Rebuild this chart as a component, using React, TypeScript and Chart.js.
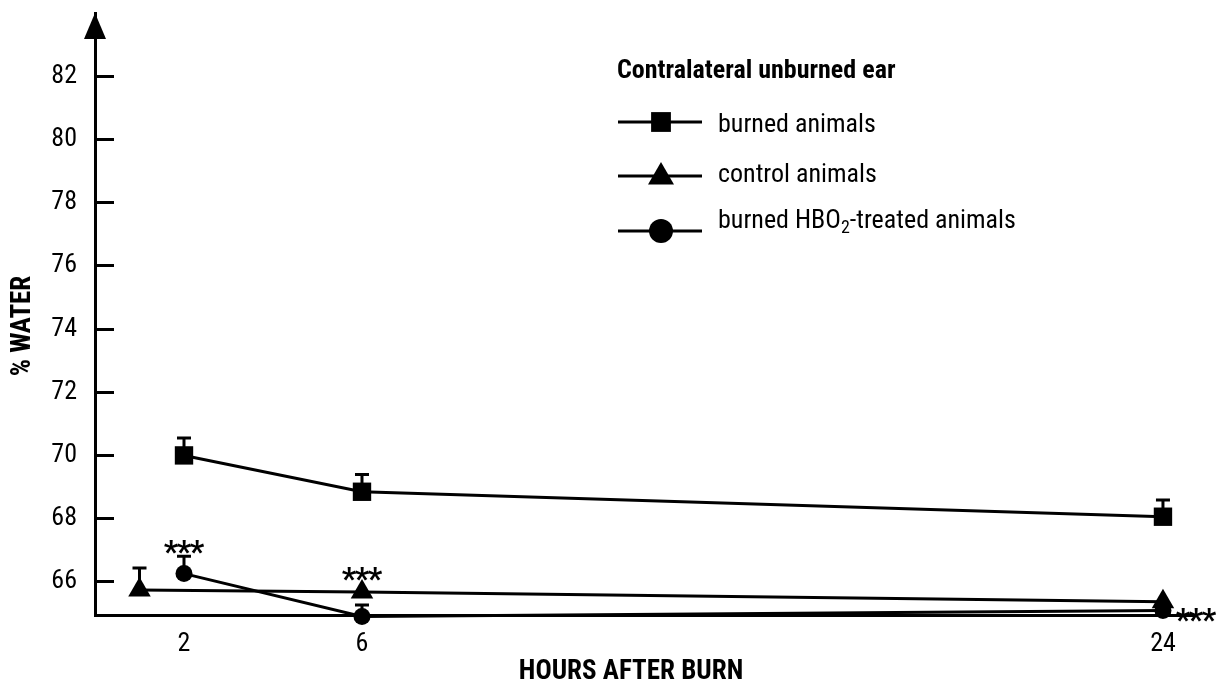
import React, { useEffect, useRef } from 'react';
import { Chart, registerables } from 'chart.js';

Chart.register(...registerables);

// ---- data ----
const HOURS_BURNED = [2, 6, 24];
const BURNED = [70.0, 68.85, 68.06];
const BURNED_ERR = [0.55, 0.55, 0.53];

const HOURS_CONTROL = [1, 6, 24];
const CONTROL = [65.74, 65.68, 65.37];
const CONTROL_ERR = [0.7, 0, 0];

const HOURS_HBO = [2, 6, 24];
const HBO = [66.26, 64.9, 65.09];
const HBO_ERR = [0.55, 0.37, 0];

const X_TICKS = [2, 6, 24];
const Y_TICKS = [66, 68, 70, 72, 74, 76, 78, 80, 82];

const STAR_X = [2, 6, 24.74];
const STAR_Y = [67.18, 66.3, 65.0];

const LEGEND_TITLE = 'Contralateral unburned ear';
const SERIES_LABELS = ['burned animals', 'control animals', 'burned HBO2-treated animals'];
const X_TITLE = 'HOURS AFTER BURN';
const Y_TITLE = '% WATER';

const FONT = "'Liberation Sans Narrow', 'Roboto Condensed', 'DejaVu Sans Condensed', 'Arial Narrow', sans-serif";

const ERRS = [BURNED_ERR, CONTROL_ERR, HBO_ERR];

function drawMarker(ctx: CanvasRenderingContext2D, style: string, x: number, y: number, r: number) {
  ctx.beginPath();
  if (style === 'rect') {
    const s = r * Math.SQRT1_2;
    ctx.rect(x - s, y - s, 2 * s, 2 * s);
  } else if (style === 'triangle') {
    ctx.moveTo(x, y - r);
    ctx.lineTo(x + r * Math.sin((2 * Math.PI) / 3), y - r * Math.cos((2 * Math.PI) / 3));
    ctx.lineTo(x + r * Math.sin((4 * Math.PI) / 3), y - r * Math.cos((4 * Math.PI) / 3));
    ctx.closePath();
  } else {
    ctx.arc(x, y, r, 0, Math.PI * 2);
  }
  ctx.fill();
}

const overlay = {
  id: 'overlay',
  beforeDatasetsDraw(chart: any) {
    const ctx = chart.ctx as CanvasRenderingContext2D;
    const xs = chart.scales.x;
    const ys = chart.scales.y;
    ctx.save();
    ctx.strokeStyle = '#000';
    ctx.lineWidth = 3;
    chart.data.datasets.forEach((ds: any, di: number) => {
      ds.data.forEach((p: any, i: number) => {
        const e = ERRS[di][i];
        if (!e) return;
        const px = xs.getPixelForValue(p.x);
        const y0 = ys.getPixelForValue(p.y);
        const y1 = ys.getPixelForValue(p.y + e);
        ctx.beginPath();
        ctx.moveTo(px, y0);
        ctx.lineTo(px, y1);
        ctx.moveTo(px - 7, y1);
        ctx.lineTo(px + 7, y1);
        ctx.stroke();
      });
    });
    ctx.restore();
  },
  afterDraw(chart: any) {
    const ctx = chart.ctx as CanvasRenderingContext2D;
    const xs = chart.scales.x;
    const ys = chart.scales.y;
    const area = chart.chartArea;
    ctx.save();
    ctx.fillStyle = '#000';
    ctx.strokeStyle = '#000';

    // arrow head on y axis
    ctx.beginPath();
    ctx.moveTo(area.left, area.top);
    ctx.lineTo(area.left + 11, area.top + 26);
    ctx.lineTo(area.left - 11, area.top + 26);
    ctx.closePath();
    ctx.fill();

    // significance stars
    ctx.font = `bold 32px ${FONT}`;
    ctx.textAlign = 'center';
    ctx.textBaseline = 'alphabetic';
    STAR_X.forEach((sx, i) => {
      const cx = xs.getPixelForValue(sx);
      const cy = ys.getPixelForValue(STAR_Y[i]);
      [-13, 0, 13].forEach((o) => ctx.fillText('*', cx + o, cy + 17));
    });

    // axis titles
    ctx.font = `bold 27px ${FONT}`;
    ctx.textAlign = 'center';
    ctx.textBaseline = 'middle';
    ctx.fillText(X_TITLE, 631, 672);
    ctx.save();
    ctx.translate(23, 326);
    ctx.rotate(-Math.PI / 2);
    ctx.fillText(Y_TITLE, 0, 0);
    ctx.restore();

    // legend
    ctx.textAlign = 'left';
    ctx.textBaseline = 'alphabetic';
    ctx.font = `bold 26px ${FONT}`;
    ctx.fillText(LEGEND_TITLE, 617, 78);
    const rowY = [122, 176, 231];
    const textBase = [132, 182, 228];
    const styles = ['rect', 'triangle', 'circle'];
    const radii = [14, 15, 12];
    ctx.lineWidth = 3;
    SERIES_LABELS.forEach((lab, i) => {
      ctx.beginPath();
      ctx.moveTo(618, rowY[i]);
      ctx.lineTo(702, rowY[i]);
      ctx.stroke();
      drawMarker(ctx, styles[i], 661, i === 1 ? rowY[i] + 1 : rowY[i], radii[i]);
      ctx.font = `26px ${FONT}`;
      const idx = lab.indexOf('HBO2');
      if (idx >= 0) {
        const a = lab.slice(0, idx + 3);
        const b = lab.slice(idx + 4);
        let x = 718;
        ctx.fillText(a, x, textBase[i]);
        x += ctx.measureText(a).width;
        ctx.font = `18px ${FONT}`;
        ctx.fillText('2', x, textBase[i] + 5);
        x += ctx.measureText('2').width;
        ctx.font = `26px ${FONT}`;
        ctx.fillText(b, x, textBase[i]);
      } else {
        ctx.fillText(lab, 718, textBase[i]);
      }
    });
    ctx.restore();
  },
};

export default function App() {
  const ref = useRef<HTMLCanvasElement>(null);

  useEffect(() => {
    if (!ref.current) return;
    const common = {
      borderColor: '#000',
      borderWidth: 3,
      pointBackgroundColor: '#000',
      pointBorderColor: '#000',
      pointBorderWidth: 0,
      tension: 0,
      clip: false as any,
    };
    const chart = new Chart(ref.current, {
      type: 'line',
      data: {
        datasets: [
          {
            ...common,
            label: SERIES_LABELS[0],
            data: BURNED.map((v, i) => ({ x: HOURS_BURNED[i], y: v })),
            pointStyle: 'rect',
            pointRadius: 13,
          },
          {
            ...common,
            label: SERIES_LABELS[1],
            data: CONTROL.map((v, i) => ({ x: HOURS_CONTROL[i], y: v })),
            pointStyle: 'triangle',
            pointRadius: 13,
          },
          {
            ...common,
            label: SERIES_LABELS[2],
            data: HBO.map((v, i) => ({ x: HOURS_HBO[i], y: v })),
            pointStyle: 'circle',
            pointRadius: 8.5,
          },
        ],
      },
      options: {
        animation: false,
        responsive: false,
        maintainAspectRatio: false,
        devicePixelRatio: 1,
        layout: { padding: { top: 7, right: 23, left: 0, bottom: 0 } },
        plugins: { legend: { display: false }, tooltip: { enabled: false } },
        scales: {
          x: {
            type: 'linear',
            min: 0,
            max: 24.72,
            afterBuildTicks: (s: any) => {
              s.ticks = X_TICKS.map((v) => ({ value: v }));
            },
            afterFit: (s: any) => {
              s.height = 71;
              s.paddingLeft = 0;
              s.paddingRight = 0;
            },
            grid: { display: false, drawTicks: false, tickLength: 0 },
            border: { display: true, color: '#000', width: 3 },
            ticks: {
              color: '#000',
              font: { family: FONT, size: 26 },
              padding: 14,
              autoSkip: false,
              maxRotation: 0,
              callback: (v: any) => String(v),
            },
          },
          y: {
            type: 'linear',
            min: 64.95,
            max: 84,
            afterBuildTicks: (s: any) => {
              s.ticks = Y_TICKS.map((v) => ({ value: v }));
            },
            afterFit: (s: any) => {
              s.width = 95;
              s.paddingTop = 0;
              s.paddingBottom = 0;
            },
            grid: {
              display: true,
              drawOnChartArea: false,
              drawTicks: true,
              tickLength: -19,
              tickWidth: 3,
              tickColor: '#000',
            },
            border: { display: true, color: '#000', width: 3 },
            ticks: {
              color: '#000',
              font: { family: FONT, size: 26 },
              padding: 37,
              autoSkip: false,
              callback: (v: any) => String(v),
            },
          },
        },
      } as any,
      plugins: [overlay],
    });
    return () => chart.destroy();
  }, []);

  return (
    <div style={{ position: 'fixed', left: 0, top: 0, width: 1218, height: 686, background: '#fff' }}>
      <canvas ref={ref} width={1218} height={686} style={{ display: 'block', width: 1218, height: 686 }} />
    </div>
  );
}
